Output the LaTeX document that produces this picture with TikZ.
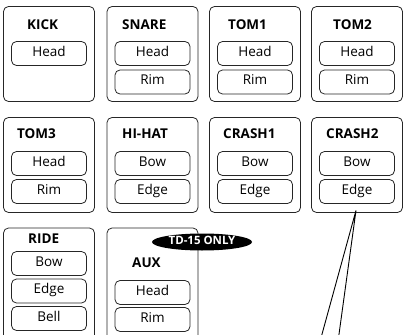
\documentclass[tikz,border=0pt]{standalone}
\usepackage{fontspec}
\setmainfont{Open Sans}
\usetikzlibrary{shapes.geometric}
\newcommand\padfont{\fontsize{13.5}{16}\selectfont}
\tikzset{
    pad/.style={draw=black!85, line width=0.8pt, rounded corners=5pt, minimum width=91pt, minimum height=95pt},
    tallpad/.style={pad, minimum height=130pt},
    zone/.style={draw=black!85, line width=0.8pt, rounded corners=5pt, minimum width=75pt, minimum height=24pt, inner sep=0pt, text height=8.5pt, text depth=3pt},
    padname/.style={anchor=base west, inner sep=0pt, font=\padfont\bfseries},
    badge/.style={ellipse, fill=black, text=white, inner sep=0pt, minimum width=100pt, minimum height=17pt, text height=7.5pt, text depth=2.5pt, font=\fontsize{11.5}{14}\selectfont\bfseries}
}

\begin{document}
\begin{tikzpicture}
  [
    x                       = 1pt,
    y                       = -1pt,
    every node/.style       = {font=\padfont},
  ]
  \useasboundingbox (0,0) rectangle (403,334);
  \clip (0,0) rectangle (403,334);

  \node [pad] (kick)   at (49,54)    {};
  \node [pad] (snare)  at (152.5,54) {};
  \node [pad] (tomone) at (255,54)   {};
  \node [pad] (tomtwo) at (357,54)   {};
  \node [padname] at (27,30)  {KICK};
  \node [padname] at (122,30) {SNARE};
  \node [padname] at (228,30) {TOM1};
  \node [padname] at (333,30) {TOM2};
  \node [zone] (kickhead)   at (49,53.5)    {Head};
  \node [zone] (snarehead)  at (152.5,53.5) {Head};
  \node [zone] (snarerim)   at (152.5,82)   {Rim};
  \node [zone] (tomonehead) at (255,53.5)   {Head};
  \node [zone] (tomonerim)  at (255,82)     {Rim};
  \node [zone] (tomtwohead) at (357,53.5)   {Head};
  \node [zone] (tomtworim)  at (357,82)     {Rim};

  \node [pad] (tomthree)  at (49,165)    {};
  \node [pad] (hihat)     at (152.5,165) {};
  \node [pad] (crashone)  at (255,165)   {};
  \node [pad] (crashtwo)  at (357,165)   {};
  \node [padname] at (17,138)  {TOM3};
  \node [padname] at (122,138) {HI-HAT};
  \node [padname] at (223,138) {CRASH1};
  \node [padname] at (326,138) {CRASH2};
  \node [zone] (tomthreehead) at (49,163.5)    {Head};
  \node [zone] (tomthreerim)  at (49,191.5)    {Rim};
  \node [zone] (hihatbow)     at (152.5,163.5) {Bow};
  \node [zone] (hihatedge)    at (152.5,191.5) {Edge};
  \node [zone] (crashonebow)  at (255,163.5)   {Bow};
  \node [zone] (crashoneedge) at (255,191.5)   {Edge};
  \node [zone] (crashtwobow)  at (357,163.5)   {Bow};
  \node [zone] (crashtwoedge) at (357,191.5)   {Edge};

  \node [tallpad] (ride) at (49,293)    {};
  \node [tallpad] (aux)  at (152.5,293) {};
  \node [padname] at (28,243)  {RIDE};
  \node [padname] at (132,267) {AUX};
  \node [zone] (ridebow)  at (49,263.5)    {Bow};
  \node [zone] (rideedge) at (49,291)      {Edge};
  \node [zone] (ridebell) at (49,318.5)    {Bell};
  \node [zone] (auxhead)  at (152.5,292.5) {Head};
  \node [zone] (auxrim)   at (152.5,319.5) {Rim};
  \node [badge] (only) at (202,242) {\makebox[0pt]{TD-15 ONLY}};

  \coordinate (pin)      at ([xshift=-1pt,yshift=-6.5pt]crashtwoedge.south);
  \coordinate (lefttip)  at (320.4,340);
  \coordinate (righttip) at (338.2,340);
  \draw [line width=0.9pt] (lefttip) -- (pin) -- (righttip);
\end{tikzpicture}
\end{document}
